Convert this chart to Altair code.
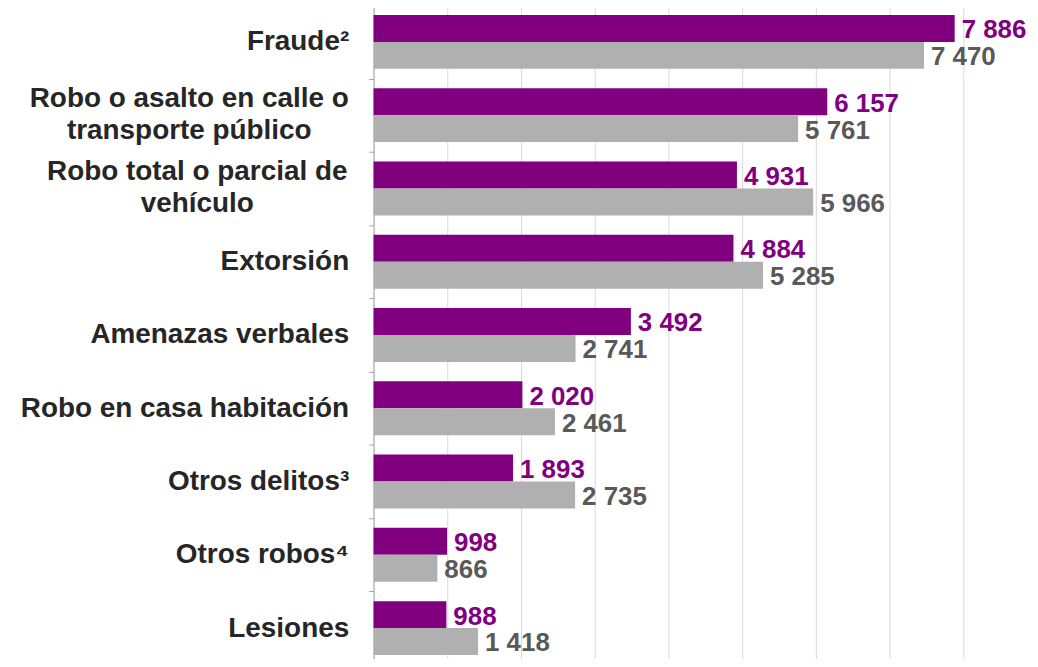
import altair as alt
import pandas as pd

categories = [
    "Fraude²",
    "Robo o asalto en calle o|transporte público",
    "Robo total o parcial de|vehículo",
    "Extorsión",
    "Amenazas verbales",
    "Robo en casa habitación",
    "Otros delitos³",
    "Otros robos⁴",
    "Lesiones",
]
series = ["Serie 1", "Serie 2"]
values_1 = [7886, 6157, 4931, 4884, 3492, 2020, 1893, 998, 988]
values_2 = [7470, 5761, 5966, 5285, 2741, 2461, 2735, 866, 1418]
grid_values = [0, 1000, 2000, 3000, 4000, 5000, 6000, 7000, 8000]

rows = []
for c, a, b in zip(categories, values_1, values_2):
    rows.append({"cat": c, "series": series[0], "value": a,
                 "label": f"{a:,}".replace(",", " ")})
    rows.append({"cat": c, "series": series[1], "value": b,
                 "label": f"{b:,}".replace(",", " ")})
df = pd.DataFrame(rows)
cat_df = pd.DataFrame({"cat": categories})

FONT = "Liberation Sans"
CAT_SIZE = 28
LINE_H = 32
CAT_COLOR = "#262626"

y_enc = alt.Y(
    "cat:N",
    sort=categories,
    scale=alt.Scale(paddingInner=0, paddingOuter=0),
    axis=alt.Axis(
        title=None,
        labelExpr="indexof(datum.label, '|') >= 0 ? '' : datum.label",
        labelFont=FONT,
        labelFontSize=CAT_SIZE,
        labelFontWeight="bold",
        labelColor=CAT_COLOR,
        labelPadding=20,
        labelLimit=400,
        tickBand="extent",
        tickSize=5,
        tickColor="#a6a6a6",
        domainColor="#a6a6a6",
        grid=False,
    ),
)
x_enc = alt.X(
    "value:Q",
    scale=alt.Scale(domain=[0, 8800], nice=False, zero=True),
    axis=alt.Axis(
        title=None,
        labels=False,
        ticks=False,
        domain=False,
        grid=True,
        gridColor="#d9d9d9",
        gridWidth=1,
        values=grid_values,
    ),
)
yoff = alt.YOffset(
    "series:N", sort=series, scale=alt.Scale(paddingInner=0, paddingOuter=0.36)
)

base = alt.Chart(df)
bars = base.mark_bar().encode(
    x=x_enc,
    y=y_enc,
    yOffset=yoff,
    color=alt.Color(
        "series:N",
        scale=alt.Scale(domain=series, range=["#800080", "#b0b0b0"]),
        legend=None,
    ),
)
texts = base.mark_text(
    align="left", baseline="middle", dx=7, dy=2,
    font=FONT, fontSize=26, fontWeight="bold",
).encode(
    x=alt.X("value:Q"),
    y=alt.Y("cat:N", sort=categories),
    yOffset=alt.YOffset("series:N", sort=series),
    text="label:N",
    color=alt.Color(
        "series:N",
        scale=alt.Scale(domain=series, range=["#800080", "#595959"]),
        legend=None,
    ),
)


def multiline_label(cat, xpos):
    return (
        alt.Chart(cat_df)
        .transform_filter(alt.datum.cat == cat)
        .mark_text(
            align="center", baseline="middle", dy=-LINE_H / 2,
            lineBreak="|", lineHeight=LINE_H,
            font=FONT, fontSize=CAT_SIZE, fontWeight="bold", color=CAT_COLOR,
        )
        .encode(
            y=alt.Y("cat:N", sort=categories),
            x=alt.value(xpos),
            text="cat:N",
        )
    )


ml1 = multiline_label(categories[1], -185)
ml2 = multiline_label(categories[2], -177)

chart = (
    alt.layer(bars, texts, ml1, ml2)
    .resolve_scale(color="independent")
    .properties(
        width=651,
        height=662,
        autosize=alt.AutoSizeParams(type="none"),
        padding={"left": 367, "top": -4, "right": 8, "bottom": -7},
        background="white",
    )
    .configure_view(stroke=None)
)

chart.save("out.html", embed_options={"renderer": "svg", "actions": False})
